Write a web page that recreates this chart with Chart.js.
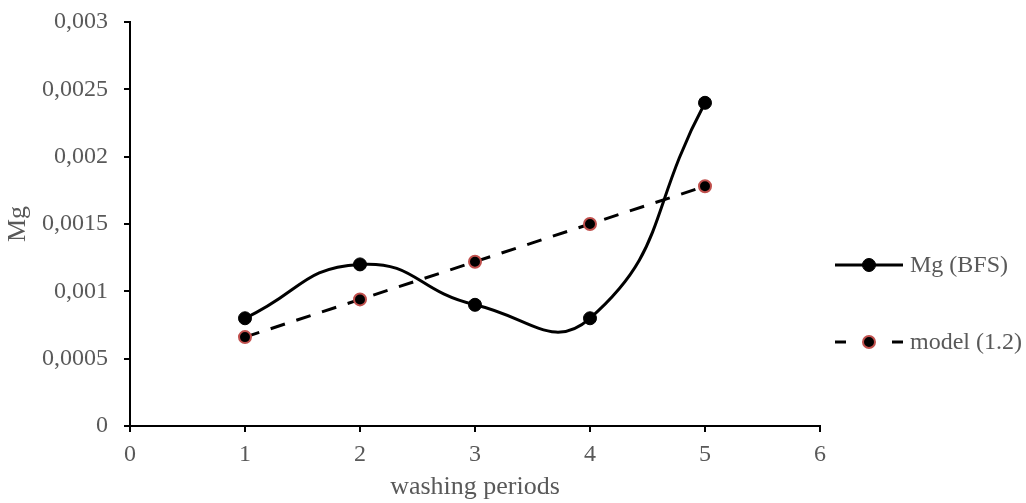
<!DOCTYPE html>
<html>
<head>
<meta charset="utf-8">
<script src="https://cdn.jsdelivr.net/npm/chart.js@4/dist/chart.umd.min.js"></script>
<style>
  html, body { margin: 0; padding: 0; background: #fff; }
  #wrap { width: 1026px; height: 503px; }
</style>
</head>
<body>
<div id="wrap"><canvas id="chart" width="1026" height="503"></canvas></div>
<script>
const periods = [1, 2, 3, 4, 5];
const mgBfs = [0.0008, 0.0012, 0.0009, 0.0008, 0.0024];
const model = [0.00066, 0.00094, 0.00122, 0.0015, 0.00178];
const seriesNames = ["Mg (BFS)", "model (1.2)"];
const xTitle = "washing periods";
const yTitle = "Mg";

const FONT = "'Liberation Serif', 'Times New Roman', serif";
const GREY = "#595959";

// legend drawn on the right, line + marker like the original
const sideLegend = {
  id: "sideLegend",
  afterDraw(chart) {
    const ctx = chart.ctx;
    const rows = [265, 342];
    chart.data.datasets.forEach((ds, i) => {
      const y = rows[i];
      ctx.save();
      ctx.strokeStyle = ds.borderColor;
      ctx.lineWidth = ds.borderWidth;
      ctx.beginPath();
      if (ds.borderDash) {
        ctx.moveTo(835, y); ctx.lineTo(846, y);
        ctx.moveTo(892, y); ctx.lineTo(903, y);
      } else {
        ctx.moveTo(835, y); ctx.lineTo(903, y);
      }
      ctx.stroke();
      ctx.beginPath();
      ctx.arc(869, y, ds.pointRadius, 0, Math.PI * 2);
      ctx.fillStyle = ds.pointBackgroundColor;
      ctx.fill();
      ctx.lineWidth = ds.pointBorderWidth;
      ctx.strokeStyle = ds.pointBorderColor;
      ctx.stroke();
      ctx.fillStyle = GREY;
      ctx.font = "24px " + FONT;
      ctx.textBaseline = "middle";
      ctx.fillText(ds.label, 910, y + 1);
      ctx.restore();
    });
  }
};

new Chart(document.getElementById("chart"), {
  type: "line",
  data: {
    datasets: [
      {
        label: seriesNames[0],
        data: periods.map((p, i) => ({ x: p, y: mgBfs[i] })),
        borderColor: "#000",
        borderWidth: 3,
        tension: 0.5,
        pointRadius: 6.5,
        pointBackgroundColor: "#000",
        pointBorderColor: "#000",
        pointBorderWidth: 1
      },
      {
        label: seriesNames[1],
        data: periods.map((p, i) => ({ x: p, y: model[i] })),
        borderColor: "#000",
        borderWidth: 3,
        borderDash: [15, 12],
        tension: 0,
        pointRadius: 6,
        pointBackgroundColor: "#000",
        pointBorderColor: "#C0504D",
        pointBorderWidth: 2
      }
    ]
  },
  options: {
    responsive: false,
    animation: false,
    layout: { padding: { top: 22, right: 206, bottom: 0, left: 0 } },
    plugins: { legend: { display: false }, tooltip: { enabled: false } },
    scales: {
      x: {
        type: "linear",
        min: 0, max: 6,
        afterFit(s) { s.height = 77; s.paddingLeft = 0; s.paddingRight = 0; },
        ticks: { stepSize: 1, color: GREY, font: { family: FONT, size: 24 }, padding: 8 },
        grid: { drawOnChartArea: false, drawTicks: true, tickLength: 6, color: "#000", lineWidth: 2 },
        border: { color: "#000", width: 2 },
        title: { display: true, text: xTitle, color: GREY, font: { family: FONT, size: 26 }, padding: { top: 0, bottom: 0 } }
      },
      y: {
        min: 0, max: 0.003,
        afterFit(s) { s.width = 130; s.paddingTop = 0; s.paddingBottom = 0; },
        ticks: {
          stepSize: 0.0005,
          color: GREY,
          font: { family: FONT, size: 24 },
          padding: 16,
          callback: v => String(Math.round(v * 10000) / 10000).replace(".", ",")
        },
        grid: { drawOnChartArea: false, drawTicks: true, tickLength: 6, color: "#000", lineWidth: 2 },
        border: { color: "#000", width: 2 },
        title: { display: true, text: yTitle, color: GREY, font: { family: FONT, size: 26 }, padding: { top: 3, bottom: 0 } }
      }
    }
  },
  plugins: [sideLegend]
});
</script>
</body>
</html>
